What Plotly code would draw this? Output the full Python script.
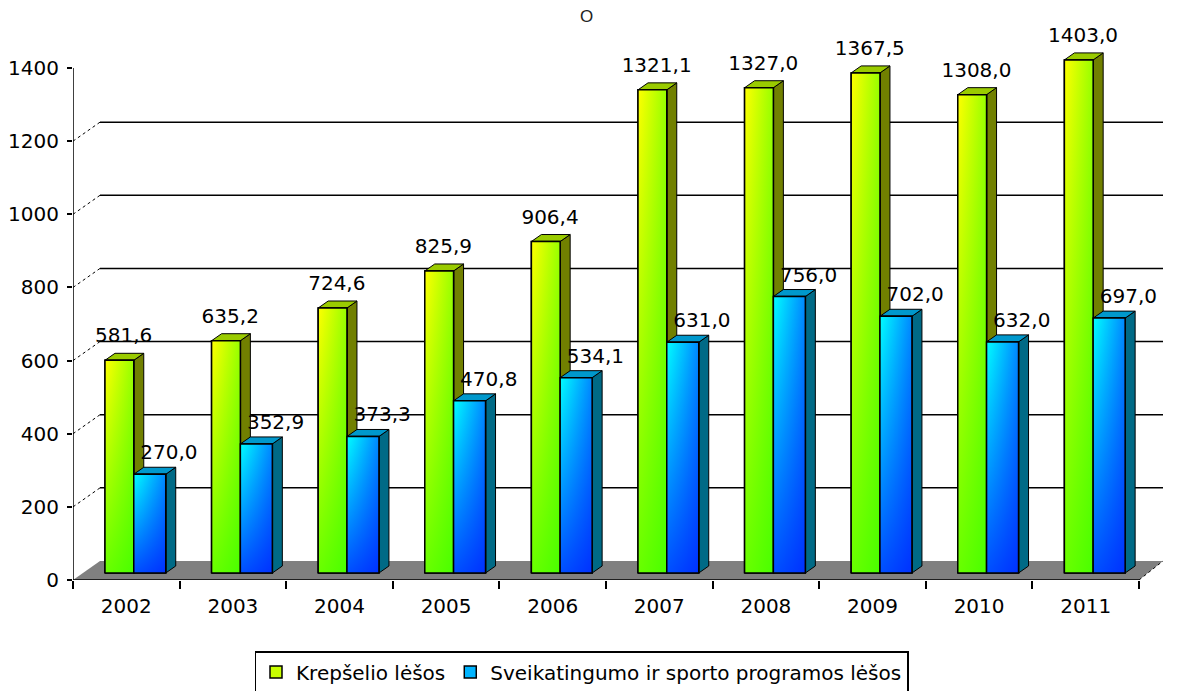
import plotly.graph_objects as go

# ---- data ----
years = [2002, 2003, 2004, 2005, 2006, 2007, 2008, 2009, 2010, 2011]
krepselio = [581.6, 635.2, 724.6, 825.9, 906.4, 1321.1, 1327.0, 1367.5, 1308.0, 1403.0]
sveikatingumo = [270.0, 352.9, 373.3, 470.8, 534.1, 631.0, 756.0, 702.0, 632.0, 697.0]
series_names = ["Krepšelio lėšos", "Sveikatingumo ir sporto programos lėšos"]
y_ticks = [0, 200, 400, 600, 800, 1000, 1200, 1400]
title_text = "O"

# ---- geometry / style ----
W, H = 1180, 691
ML, MR, MT, MB = 73, 10, 25, 111
PXX = 106.6      # px per category unit
PXY = 0.3657     # px per value unit
plot_w = W - ML - MR
plot_h = H - MT - MB
x_lo = years[0] - 0.5
x_hi = x_lo + plot_w / PXX
y_hi = plot_h / PXY
bar_lift = 7 / PXY          # bars stand 7px above the front edge
ddx, ddy = 10 / PXX, 7 / PXY   # bar depth
bdx, bdy = 27 / PXX, 19 / PXY  # back wall depth
bdx_r = 24 / PXX

OFF_K, W_K = -0.20, 0.27
OFF_S, W_S = 0.07, 0.30
FONT = "DejaVu Sans, Verdana, sans-serif"
FS = 20

def fmt(v):
    return f"{v:.1f}".replace(".", ",")

fig = go.Figure()

# real bars (data marks, also give legend entries)
fig.add_trace(go.Bar(x=years, y=krepselio, name=series_names[0], offset=OFF_K, width=W_K,
                     marker=dict(color="#c8ff00", line=dict(color="black", width=1.5)),
                     yaxis="y2", hoverinfo="skip"))
fig.add_trace(go.Bar(x=years, y=sveikatingumo, name=series_names[1], offset=OFF_S, width=W_S,
                     marker=dict(color="#00b4ff", line=dict(color="black", width=1.5)),
                     yaxis="y2", hoverinfo="skip"))

# gradient overlays on front faces
styles = [
    (krepselio, OFF_K, W_K, [[0, "#ffff00"], [1, "#98ff00"]], "rgba(40,255,0,0.7)", "rgba(40,255,0,0)"),
    (sveikatingumo, OFF_S, W_S, [[0, "#00ffff"], [1, "#0088ff"]], "rgba(0,20,255,0.75)", "rgba(0,20,255,0)"),
]
for vals, off, wd, hscale, vbot, vtop in styles:
    for yr, v in zip(years, vals):
        x0 = yr + off
        x1 = x0 + wd
        xs = [x0, x1, x1, x0, x0]
        ys = [0, 0, v, v, 0]
        fig.add_trace(go.Scatter(x=xs, y=ys, yaxis="y2", mode="lines", fill="toself",
                                 line=dict(width=0), fillcolor="#ccff00",
                                 fillgradient=dict(type="horizontal", colorscale=hscale),
                                 showlegend=False, hoverinfo="skip"))
        fig.add_trace(go.Scatter(x=xs, y=ys, yaxis="y2", mode="lines", fill="toself",
                                 line=dict(color="black", width=1.5), fillcolor="rgba(0,0,0,0)",
                                 fillgradient=dict(type="vertical", colorscale=[[0, vbot], [1, vtop]]),
                                 showlegend=False, hoverinfo="skip"))

# data labels
fig.add_trace(go.Scatter(x=[yr + OFF_K + W_K / 2 + 0.04 for yr in years],
                         y=[v + 23 / PXY for v in krepselio], yaxis="y2",
                         mode="text", text=[fmt(v) for v in krepselio], textposition="middle center",
                         textfont=dict(family=FONT, size=FS, color="black"),
                         showlegend=False, hoverinfo="skip", cliponaxis=False))
fig.add_trace(go.Scatter(x=[yr + OFF_S + W_S / 2 + 0.18 for yr in years],
                         y=[v + 20 / PXY for v in sveikatingumo], yaxis="y2",
                         mode="text", text=[fmt(v) for v in sveikatingumo], textposition="middle center",
                         textfont=dict(family=FONT, size=FS, color="black"),
                         showlegend=False, hoverinfo="skip", cliponaxis=False))

# ---- 3D decoration shapes ----
shapes = []
x_end = years[-1] + 0.5
# floor
shapes.append(dict(type="path", xref="x", yref="y", layer="below",
                   path=f"M {x_lo},0 L {x_end},0 L {x_end + bdx_r},{bdy} L {x_lo + bdx},{bdy} Z",
                   fillcolor="#808080", line=dict(width=0)))
# back wall gridlines + dashed connectors
for v in y_ticks[1:-1]:
    shapes.append(dict(type="line", xref="x", yref="y", layer="below",
                       x0=x_lo + bdx, x1=x_end + bdx_r, y0=v + bdy, y1=v + bdy,
                       line=dict(color="black", width=1.5)))
    shapes.append(dict(type="line", xref="x", yref="y", layer="below",
                       x0=x_lo, x1=x_lo + bdx, y0=v, y1=v + bdy,
                       line=dict(color="black", width=1, dash="dot")))
shapes.append(dict(type="line", xref="x", yref="y", layer="below",
                   x0=x_end, x1=x_end + bdx_r, y0=0, y1=bdy,
                   line=dict(color="black", width=1, dash="dot")))
# bar side & top faces
face_cols = [(krepselio, OFF_K, W_K, "#718000", "#9acb00"),
             (sveikatingumo, OFF_S, W_S, "#006a86", "#0098cc")]
for vals, off, wd, side_c, top_c in face_cols:
    for yr, v in zip(years, vals):
        x0 = yr + off
        x1 = x0 + wd
        shapes.append(dict(type="path", xref="x", yref="y2", layer="below",
                           path=f"M {x1},0 L {x1 + ddx},{ddy} L {x1 + ddx},{v + ddy} L {x1},{v} Z",
                           fillcolor=side_c, line=dict(color="black", width=1)))
        shapes.append(dict(type="path", xref="x", yref="y2", layer="below",
                           path=f"M {x0},{v} L {x1},{v} L {x1 + ddx},{v + ddy} L {x0 + ddx},{v + ddy} Z",
                           fillcolor=top_c, line=dict(color="black", width=1)))
# front axis lines
shapes.append(dict(type="line", xref="x", yref="y", layer="above",
                   x0=x_lo, x1=x_end, y0=0, y1=0, line=dict(color="black", width=1.5)))
shapes.append(dict(type="line", xref="x", yref="y", layer="above",
                   x0=x_lo, x1=x_lo, y0=0, y1=y_ticks[-1], line=dict(color="black", width=1.5)))

fig.update_layout(
    width=W, height=H,
    margin=dict(l=ML, r=MR, t=MT, b=MB, autoexpand=False),
    paper_bgcolor="white", plot_bgcolor="white",
    barmode="overlay",
    font=dict(family=FONT, size=FS, color="black"),
    shapes=shapes,
    xaxis=dict(range=[x_lo, x_hi], tickmode="array", tickvals=years,
               ticktext=[str(y) for y in years], ticks="", showgrid=False, zeroline=False,
               showline=False, ticklabelstandoff=12, automargin=False,
               minor=dict(tickmode="array", tickvals=[y - 0.5 for y in years] + [x_end],
                          ticks="outside", ticklen=8, tickwidth=1.5, tickcolor="black", showgrid=False),
               tickfont=dict(size=FS)),
    yaxis=dict(range=[0, y_hi], tickmode="array", tickvals=y_ticks, ticks="outside",
               ticklen=5, tickwidth=1.5, tickcolor="black", showgrid=False, zeroline=False,
               showline=False, ticklabelstandoff=4, tickfont=dict(size=FS), automargin=False),
    yaxis2=dict(range=[-bar_lift, y_hi - bar_lift], overlaying="y", visible=False),
    legend=dict(orientation="h", x=(581.5 - ML) / plot_w, xanchor="center",
                y=(H - MB - 651) / plot_h, yanchor="top",
                bordercolor="black", borderwidth=1.5, bgcolor="white",
                font=dict(size=FS), itemwidth=30),
    annotations=[dict(text=title_text, xref="paper", yref="paper",
                      x=(586 - ML) / plot_w, y=(H - MB - 17) / plot_h,
                      xanchor="center", yanchor="middle",
                      showarrow=False, font=dict(family="Liberation Sans, Arial", size=17, color="#222"))],
)

fig.write_html("out.html")
